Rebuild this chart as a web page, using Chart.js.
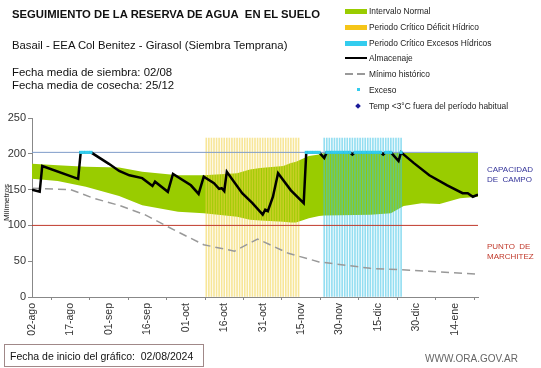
<!DOCTYPE html>
<html>
<head>
<meta charset="utf-8">
<script src="https://cdn.jsdelivr.net/npm/chart.js@4"></script>
<style>
  body { margin: 0; background: #fff; font-family: "Liberation Sans", Arial, sans-serif; }
  #caja { position: relative; width: 541px; height: 368px; overflow: hidden; }
  #grafico { position: absolute; left: 0; top: 0; }
  .txt { position: absolute; white-space: nowrap; color: #111; }
  .leg { position: absolute; left: 345px; font-size: 8.4px; color: #222; white-space: nowrap; height: 10px; line-height: 10px; }
  .leg span.sw { position: absolute; left: 0; }
  .leg span.lb { position: absolute; left: 24px; }
</style>
</head>
<body>
<div id="caja">
  <canvas id="grafico" width="541" height="368"></canvas>

  <div class="txt" style="left:12px;top:8px;font-size:11.3px;font-weight:bold;">SEGUIMIENTO DE LA RESERVA DE AGUA&nbsp; EN EL SUELO</div>
  <div class="txt" style="left:12px;top:39px;font-size:11.3px;">Basail - EEA Col Benitez - Girasol (Siembra Temprana)</div>
  <div class="txt" style="left:12px;top:66px;font-size:11.4px;line-height:13px;">Fecha media de siembra: 02/08<br>Fecha media de cosecha: 25/12</div>

  <div class="leg" style="top:6px"><span class="sw" style="top:3px;width:22px;height:5px;background:#99cc00"></span><span class="lb">Intervalo Normal</span></div>
  <div class="leg" style="top:22px"><span class="sw" style="top:3px;width:22px;height:5px;background:#f5c518"></span><span class="lb">Periodo Crítico Déficit Hídrico</span></div>
  <div class="leg" style="top:38px"><span class="sw" style="top:3px;width:22px;height:5px;background:#33ccee"></span><span class="lb">Periodo Crítico Excesos Hídricos</span></div>
  <div class="leg" style="top:53px"><span class="sw" style="top:4px;width:22px;height:2px;background:#000"></span><span class="lb">Almacenaje</span></div>
  <div class="leg" style="top:69px"><span class="sw" style="top:4px;width:8px;height:2px;background:#999"></span><span class="sw" style="left:12px;top:4px;width:8px;height:2px;background:#999"></span><span class="lb">Mínimo histórico</span></div>
  <div class="leg" style="top:85px"><span class="sw" style="left:12px;top:3px;width:3px;height:3px;background:#33ccee"></span><span class="lb">Exceso</span></div>
  <div class="leg" style="top:101px"><span class="sw" style="left:11px;top:3px;width:4px;height:4px;background:#1a1a99;transform:rotate(45deg)"></span><span class="lb">Temp &lt;3°C fuera del período habitual</span></div>

  <div class="txt" style="left:487px;top:165px;font-size:8px;line-height:10px;color:#333399;">CAPACIDAD<br>DE&nbsp; CAMPO</div>
  <div class="txt" style="left:487px;top:242px;font-size:8px;line-height:10px;color:#c0392b;">PUNTO&nbsp; DE<br>MARCHITEZ</div>

  <div class="txt" style="left:-12px;top:198px;font-size:8px;transform:rotate(-90deg);">Milímetros</div>

  <div class="txt" style="left:4px;top:344px;width:200px;height:23px;border:1px solid #a08888;font-size:10.5px;line-height:22px;padding-left:5px;box-sizing:border-box;">Fecha de inicio del gráfico:&nbsp; 02/08/2024</div>
  <div class="txt" style="left:425px;top:353px;font-size:10px;color:#666;">WWW.ORA.GOV.AR</div>
</div>

<script>
// etiquetas del eje x (cada 15 días desde el 02-ago)
const etiquetasFechas = ['02-ago', '17-ago', '01-sep', '16-sep', '01-oct', '16-oct', '31-oct', '15-nov', '30-nov', '15-dic', '30-dic', '14-ene'];

// almacenaje (día desde el inicio, mm)
const almDias =    [0, 3, 4, 18, 19, 23, 30, 34, 38, 43, 47, 48, 53, 55, 62, 65, 67, 71, 73, 74, 75, 76, 82, 86, 90, 91, 92, 94, 96, 101, 106, 107, 112, 114, 115, 124, 125, 126, 136, 137, 138, 140, 143, 144, 149, 155, 162, 168, 170, 172, 174];
const almValores = [150, 147, 183, 165, 202, 202, 186, 176, 170, 166, 155, 161, 147, 172, 156, 144, 168, 159, 151, 152, 148, 175, 145, 131, 115, 122, 120, 140, 173, 149, 131, 202, 202, 194, 202, 202, 199, 202, 202, 199, 202, 202, 190, 202, 187, 170, 156, 145, 145, 140, 143];

// intervalo normal (banda verde)
const bandaDias =     [0, 10, 21, 34, 43, 57, 67, 80, 85, 89, 98, 101, 103, 108, 112, 114, 132, 140, 145, 152, 159, 167, 174];
const bandaSuperior = [186, 184, 182, 181, 175, 170, 170, 173, 178, 180, 183, 187, 189, 197, 199, 201, 201, 201, 201, 201, 201, 201, 201];
const bandaInferior = [165, 162, 154, 141, 128, 119, 117, 112, 108, 107, 105, 104, 104, 110, 113, 114, 115, 117, 127, 131, 130, 138, 140];

// mínimo histórico
const minDias =    [0, 15, 24, 34, 44, 52, 58, 67, 79, 88, 100, 112, 132, 144, 159, 174];
const minValores = [152, 150, 138, 128, 115, 100, 89, 73, 64, 81, 61, 49, 40, 38, 35, 32];

// periodos críticos (primer y último día) y altura de las barras
const deficitPeriodo = [68, 104];
const excesoPeriodo = [114, 144];
const alturaPeriodo = 222;

// días con exceso (almacenaje en capacidad de campo)
const excesoDias = [19, 20, 21, 22, 23, 107, 108, 109, 110, 111, 112, 115, 116, 117, 118, 119, 120, 121, 122, 123, 124, 126, 127, 128, 129, 130, 131, 132, 133, 134, 135, 136, 138, 139, 140, 144];

const capacidadCampo = 202;
const puntoMarchitez = 100;
const diaFinal = 174;

function puntos(dias, valores) {
    return dias.map((d, i) => ({ x: d, y: valores[i] }));
}

function barrasPeriodo(periodo) {
    let datos = [];
    for (let d = periodo[0]; d <= periodo[1]; d++) datos.push({ x: d, y: alturaPeriodo });
    return datos;
}

let ctx = document.getElementById('grafico').getContext('2d');
new Chart(ctx, {
    type: 'line',
    data: {
        datasets: [
            { data: puntos(bandaDias, bandaInferior), borderWidth: 0, pointRadius: 0, fill: false, order: 20 },
            { data: puntos(bandaDias, bandaSuperior), borderWidth: 0, pointRadius: 0, fill: '-1', backgroundColor: '#99cc00', order: 20 },
            { type: 'bar', data: barrasPeriodo(deficitPeriodo), backgroundColor: 'rgba(240, 210, 70, 0.55)', barThickness: 1, grouped: false, order: 10 },
            { type: 'bar', data: barrasPeriodo(excesoPeriodo), backgroundColor: 'rgba(60, 195, 230, 0.55)', barThickness: 1, grouped: false, order: 10 },
            { data: puntos([0, diaFinal], [capacidadCampo, capacidadCampo]), borderColor: '#7f9cc9', borderWidth: 1, pointRadius: 0, order: 6 },
            { data: puntos([0, diaFinal], [puntoMarchitez, puntoMarchitez]), borderColor: '#c0392b', borderWidth: 1, pointRadius: 0, order: 6 },
            { data: puntos(minDias, minValores), borderColor: '#999999', borderWidth: 1.5, borderDash: [8, 5], pointRadius: 0, order: 5 },
            { data: puntos(almDias, almValores), borderColor: '#000000', borderWidth: 2.5, pointRadius: 0, order: 2 },
            { data: puntos(excesoDias, excesoDias.map(() => capacidadCampo)), showLine: false, pointStyle: 'rect', pointRadius: 2.2, backgroundColor: '#33ccee', borderWidth: 0, order: 0 }
        ]
    },
    options: {
        responsive: false,
        animation: false,
        devicePixelRatio: 1,
        layout: { padding: { top: 118, right: 63, left: 0, bottom: 0 } },
        plugins: { legend: { display: false }, tooltip: { enabled: false } },
        scales: {
            x: {
                type: 'linear',
                min: 0,
                max: diaFinal,
                offset: false,
                afterFit: function(scale) { scale.height = 71; },
                border: { color: '#888', width: 1 },
                grid: { drawOnChartArea: false, tickLength: 3, color: '#888' },
                ticks: {
                    stepSize: 15,
                    minRotation: 90,
                    maxRotation: 90,
                    autoSkip: false,
                    color: '#333',
                    font: { family: 'Liberation Sans', size: 10.5 },
                    callback: function(v) { return etiquetasFechas[v / 15]; }
                }
            },
            y: {
                min: 0,
                max: 250,
                afterFit: function(scale) { scale.width = 32; },
                border: { color: '#888', width: 1 },
                grid: { drawOnChartArea: false, tickLength: 4, color: '#888' },
                ticks: { stepSize: 50, color: '#333', padding: 2, font: { family: 'Liberation Sans', size: 11 } }
            }
        }
    }
});
</script>
</body>
</html>
